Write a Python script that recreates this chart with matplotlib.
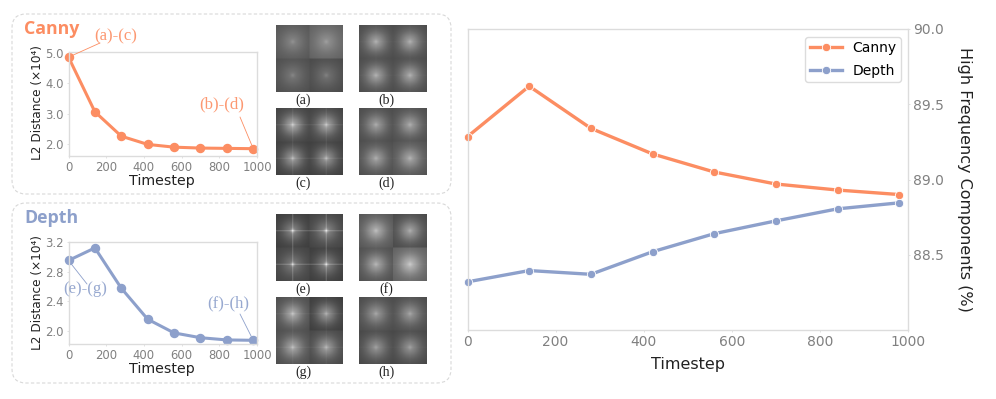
#!/usr/bin/env python3
# Timestep curves for Canny / Depth, with the spectrum thumbnails next to them.
import numpy as np
import matplotlib
matplotlib.use("Agg")
import matplotlib.pyplot as plt
from matplotlib.patches import FancyBboxPatch

W, H = 996, 399
CANNY = "#fc8d62"
DEPTH = "#8da0cb"
GRAY = "#808080"
SPINE = "#dcdcdc"

TIMESTEPS = [0, 140, 280, 420, 560, 700, 840, 980]
L2_CANNY = [4.85, 3.06, 2.26, 1.99, 1.90, 1.87, 1.86, 1.85]
L2_DEPTH = [2.95, 3.12, 2.575, 2.155, 1.97, 1.905, 1.875, 1.87]
HF_CANNY = [89.285, 89.62, 89.34, 89.17, 89.05, 88.97, 88.93, 88.90]
HF_DEPTH = [88.32, 88.395, 88.37, 88.52, 88.64, 88.725, 88.805, 88.845]

# thumbnails: background level of each quadrant (TL, TR, BL, BR), glow, spike
THUMB_LABELS = ["(a)", "(b)", "(c)", "(d)", "(e)", "(f)", "(g)", "(h)"]
THUMB_BG = [
    [0.42, 0.47, 0.38, 0.36], [0.37, 0.37, 0.37, 0.37],
    [0.33, 0.33, 0.31, 0.31], [0.37, 0.38, 0.38, 0.40],
    [0.30, 0.33, 0.33, 0.30], [0.42, 0.36, 0.39, 0.47],
    [0.38, 0.30, 0.38, 0.35], [0.37, 0.37, 0.35, 0.35],
]
THUMB_GLOW = [
    [0.09, 0.09, 0.08, 0.08], [0.24, 0.24, 0.24, 0.24],
    [0.30, 0.28, 0.26, 0.25], [0.22, 0.22, 0.22, 0.22],
    [0.20, 0.18, 0.14, 0.20], [0.24, 0.24, 0.24, 0.24],
    [0.26, 0.26, 0.24, 0.24], [0.20, 0.20, 0.20, 0.20],
]
THUMB_SPIKE = [0.0, 0.01, 0.05, 0.01, 0.14, 0.01, 0.03, 0.01]
# top-left corner of every thumbnail, in pixels
THUMB_X = [276, 359, 276, 359, 276, 359, 276, 359]
THUMB_Y = [25, 25, 108, 108, 214, 214, 297, 297]


def px_axes(left, top, right, bottom):
    return fig.add_axes([left / W, 1 - bottom / H, (right - left) / W, (bottom - top) / H])


def thumb(bg, glow, spike, size=66):
    half = size // 2
    yy, xx = np.mgrid[0:half, 0:half]
    r = np.hypot(xx - half / 2 + 0.5, yy - half / 2 + 0.5)
    rows = []
    for i in (0, 2):
        tiles = []
        for q in (i, i + 1):
            t = bg[q] * (1 - 0.3 * (r / half) ** 1.3) + glow[q] * np.exp(-(r / (half * 0.3)) ** 2)
            t += (spike + 0.06) * np.exp(-(r / 2) ** 2)
            t[half // 2] += spike
            t[:, half // 2] += spike
            tiles.append(t)
        rows.append(np.hstack(tiles))
    return np.vstack(rows)


def style(ax, tick_size):
    for s in ax.spines.values():
        s.set_color(SPINE)
        s.set_linewidth(1.0)
    ax.tick_params(colors=GRAY, labelsize=tick_size, length=1.5, width=0.6, color=SPINE, pad=2)


def small_plot(top, bottom, values, color, ylim, yticks, title, title_y):
    ax = px_axes(68.5, top, 257, bottom)
    ax.plot(TIMESTEPS, values, color=color, lw=2.2, marker="o", ms=5.8, clip_on=False)
    ax.set_xlim(0, 1000)
    ax.set_ylim(*ylim)
    ax.set_xticks([0, 200, 400, 600, 800, 1000])
    ax.set_yticks(yticks)
    ax.set_yticklabels([f"{t:.1f}" for t in yticks])
    style(ax, 8.4)
    fig.text(162 / W, 1 - (bottom + 25) / H, "Timestep", fontsize=10.2, color="#222222",
             ha="center", va="center")
    fig.text(37 / W, 1 - (top + bottom - 2) / 2 / H, "L2 Distance (×10⁴)", fontsize=8.7,
             color="#222222", rotation=90, ha="center", va="center")
    fig.text(24 / W, 1 - title_y / H, title, fontsize=12.8, color=color, fontweight="bold",
             family="Open Sans", ha="left", va="center")
    return ax


def note(ax, text, xy, xpx, ypx, color, end):
    # label sits at a pixel position, the thin leader runs from `end` to the point
    ax.text(xpx / W, 1 - ypx / H, text, transform=fig.transFigure, color=color, fontsize=12,
            family="Liberation Serif", ha="center", va="center", alpha=0.9, zorder=6)
    ax.annotate("", xy=xy, xycoords="data", xytext=(end[0] / W, 1 - end[1] / H),
                textcoords="figure fraction",
                arrowprops=dict(arrowstyle="-", color=color, lw=0.6, shrinkA=0, shrinkB=3),
                annotation_clip=False)


fig = plt.figure(figsize=(W / 100, H / 100), dpi=100)

# dashed rounded frames
bg = fig.add_axes([0, 0, 1, 1])
bg.set_xlim(0, W)
bg.set_ylim(H, 0)
bg.axis("off")
for top, bottom in [(14, 194), (203, 383)]:
    bg.add_patch(FancyBboxPatch((12 + 14, top + 14), 439 - 28, bottom - top - 28,
                                boxstyle="round,pad=14", fc="white", ec="#d8d8d8",
                                lw=0.8, ls=(0, (3, 2))))

ax1 = small_plot(52, 156, L2_CANNY, CANNY, (1.61, 5.02), [2.0, 3.0, 4.0, 5.0], "Canny", 29)
note(ax1, "(a)-(c)", (TIMESTEPS[0], L2_CANNY[0]), 116, 36, CANNY, (100, 43))
note(ax1, "(b)-(d)", (TIMESTEPS[-1], L2_CANNY[-1]), 222, 104, CANNY, (240, 117))

ax2 = small_plot(242, 344, L2_DEPTH, DEPTH, (1.82, 3.2), [2.0, 2.4, 2.8, 3.2], "Depth", 218)
note(ax2, "(e)-(g)", (TIMESTEPS[0], L2_DEPTH[0]), 85, 289, DEPTH, (87, 284))
note(ax2, "(f)-(h)", (TIMESTEPS[-1], L2_DEPTH[-1]), 228, 303, DEPTH, (240, 314))

for label, b, g, s, x, y in zip(THUMB_LABELS, THUMB_BG, THUMB_GLOW, THUMB_SPIKE, THUMB_X, THUMB_Y):
    ax = px_axes(x, y, x + 67, y + 67)
    ax.imshow(thumb(b, g, s), cmap="gray", vmin=0, vmax=1, interpolation="bilinear", aspect="auto")
    ax.axis("off")
    fig.text((x + 27) / W, 1 - (y + 75) / H, label, fontsize=10, family="Liberation Serif",
             color="#222222", ha="center", va="center")

# main panel
ax3 = px_axes(467.5, 29, 908, 330)
for values, color, name in [(HF_CANNY, CANNY, "Canny"), (HF_DEPTH, DEPTH, "Depth")]:
    ax3.plot(TIMESTEPS, values, color=color, lw=2.4, marker="o", ms=6, mec="white", mew=0.6,
             clip_on=False, label=name)
ax3.set_xlim(0, 1000)
ax3.set_ylim(88, 90)
ax3.set_xticks([0, 200, 400, 600, 800, 1000])
ax3.set_yticks([88.5, 89.0, 89.5, 90.0])
ax3.yaxis.tick_right()
style(ax3, 10)
ax3.tick_params(pad=2)
fig.text(688 / W, 1 - 365 / H, "Timestep", fontsize=11.5, color="#222222", ha="center", va="center")
fig.text(964 / W, 1 - 179.5 / H, "High Frequency Components (%)", fontsize=11.5, color="#222222",
         rotation=-90, ha="center", va="center")
ax3.legend(loc="upper right", bbox_to_anchor=(0.984, 0.973), fontsize=10, borderaxespad=0,
           edgecolor=SPINE, framealpha=1, handlelength=2.3, labelspacing=0.6, borderpad=0.3,
           handletextpad=0.8)

fig.savefig("out.png", dpi=100)
